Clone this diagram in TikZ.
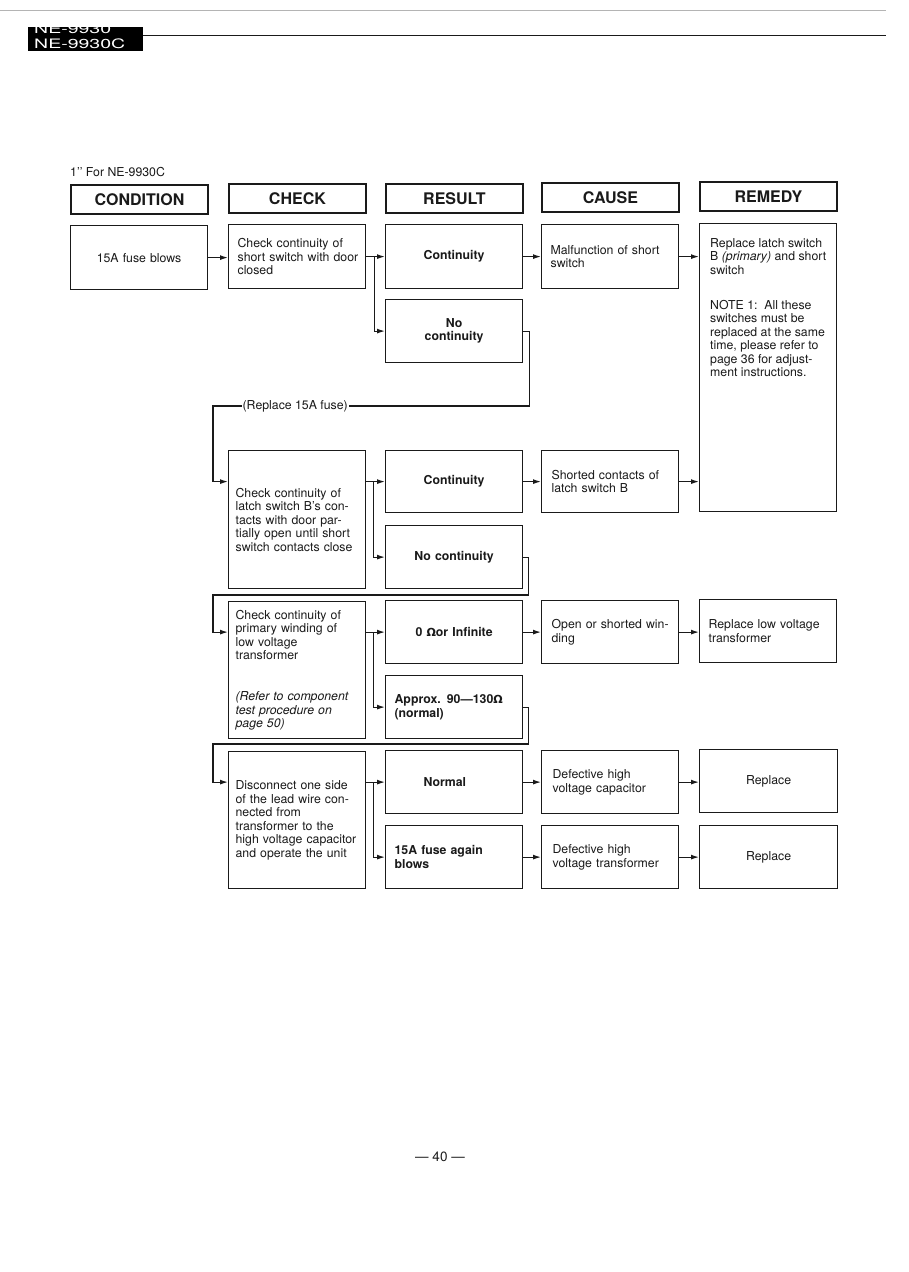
\documentclass[tikz,border=0pt]{standalone}
\usepackage{fontspec}
\setmainfont{TeX Gyre Heros}
\newfontfamily\ohmfont{DejaVu Sans}[Scale=0.9]
\usepackage{graphicx}
\usepackage{tikz}
\usetikzlibrary{arrows.meta,positioning,calc}
\providecommand{\bodyfnt}{\fontsize{12.3}{13.5}\selectfont}
\providecommand{\hdrfnt}{\fontsize{16}{18}\selectfont\bfseries}
\providecommand{\ohm}{{\ohmfont Ω}}
\definecolor{inkBlack}{HTML}{1A1A1A}
\definecolor{ruleGray}{HTML}{B4B4B4}

\begin{document}
\begin{tikzpicture}[
    x=1pt,y=-1pt,
    >={Latex[length=8pt,width=5pt]},
    every node/.style={font=\bodyfnt,text=inkBlack},
    hdr/.style={rectangle,draw=inkBlack,line width=1.9pt,anchor=north west,
                minimum width=137pt,minimum height=29pt,inner sep=0pt,font=\hdrfnt},
    box/.style={rectangle,draw=inkBlack,line width=1.2pt,anchor=north west,
                minimum width=137pt,inner xsep=7pt,inner ysep=2pt,text width=123pt,align=left},
    cbox/.style={box,align=center},
    link/.style={draw=inkBlack,line width=1.2pt}
  ]
  \useasboundingbox (0,0) rectangle (909,1272);
  \fill[white] (0,0) rectangle (909,1272);
  %% Turning points of the return lines
  \coordinate (ret1) at (213,406);
  \coordinate (ret2) at (213,595);
  \coordinate (ret3) at (213,744);

  %% Page head
  \draw[ruleGray,line width=0.6pt] (0,10) -- (886,10);
  \fill[black] (28,27) rectangle (143,51);
  \begin{scope}
    \clip (28,27) rectangle (143,51);
    \node[anchor=base west,inner sep=0pt,text=white,font=\fontsize{13}{13}\selectfont] (mdla) at (34,33) {\scalebox{1.5}[1]{NE-9930}};
    \node[anchor=base west,inner sep=0pt,text=white,font=\fontsize{13}{13}\selectfont] (mdlb) at (34,48) {\scalebox{1.5}[1]{NE-9930C}};
  \end{scope}
  \draw[inkBlack,line width=1pt] (143,35) -- (886,35);
  \node[anchor=base west,inner sep=0pt] (fornote) at (70,176) {1'{}' For NE-9930C};

  %% Column headers
  \node[hdr] (hcond) at (70,184)  {CONDITION};
  \node[hdr] (hchk)  at (228,183) {CHECK};
  \node[hdr] (hres)  at (385,183) {RESULT};
  \node[hdr] (hcau)  at (541,182) {CAUSE};
  \node[hdr] (hrem)  at (699,181) {REMEDY};

  %% Row 1
  \node[cbox,minimum height=64pt] (cond) at (70,225) {15A fuse blows};
  \node[box,minimum height=64pt] (chk1) at (228,224) {\hspace*{2pt}Check continuity of\\\hspace*{2pt}short switch with door\\\hspace*{2pt}closed};
  \node[cbox,minimum height=64pt,font=\bodyfnt\bfseries] (res1) at (385,224) {Continuity};
  \node[cbox,minimum height=63pt,font=\bodyfnt\bfseries] (res1b) at (385,299) {No\\continuity};
  \node[box,minimum height=64pt] (cau1) at (541,224) {\hspace*{2pt}Malfunction of short\\\hspace*{2pt}switch};
  \node[box,minimum height=288pt] (rem1) at (699,223) {};
  \node[anchor=north west,inner sep=0pt,align=left] (rem1t) at ([shift={(11,15)}]rem1.north west)
    {Replace latch switch\\B \textit{(primary)} and short\\switch\\[21.5pt]NOTE 1:\ \ All these\\switches must be\\replaced at the same\\time, please refer to\\page 36 for adjust-\\ment instructions.};

  %% Row 2
  \node[box,minimum height=138pt] (chk2) at (228,450) {Check continuity of\\latch switch B's con-\\tacts with door par-\\tially open until short\\switch contacts close};
  \node[cbox,minimum height=62pt,font=\bodyfnt\bfseries] (res2) at (385,450) {Continuity};
  \node[cbox,minimum height=63pt,font=\bodyfnt\bfseries] (res2b) at (385,525) {No continuity};
  \node[box,minimum height=62pt] (cau2) at (541,450) {\hspace*{3pt}Shorted contacts of\\\hspace*{3pt}latch switch B};

  %% Row 3
  \node[box,minimum height=137pt] (chk3) at (228,601) {Check continuity of\\primary winding of\\low voltage\\transformer\\[27.5pt]\textit{(Refer to component}\\\textit{test procedure on}\\\textit{page 50)}};
  \node[cbox,minimum height=63pt,font=\bodyfnt\bfseries] (res3) at (385,600) {0 \ohm or Infinite};
  \node[box,minimum height=63pt,font=\bodyfnt\bfseries] (res3b) at (385,675) {\hspace*{2pt}Approx. 90---130\ohm\\\hspace*{2pt}(normal)};
  \node[box,minimum height=63pt] (cau3) at (541,600) {\hspace*{3pt}Open or shorted win-\\\hspace*{3pt}ding};
  \node[box,minimum height=63pt] (rem3) at (699,599) {\hspace*{2pt}Replace low voltage\\\hspace*{2pt}transformer};

  %% Row 4
  \node[box,minimum height=137pt] (chk4) at (228,751) {Disconnect one side\\of the lead wire con-\\nected from\\transformer to the\\high voltage capacitor\\and operate the unit};
  \node[box,minimum height=63pt,font=\bodyfnt\bfseries] (res4) at (385,750) {\hspace*{31pt}Normal};
  \node[box,minimum height=63pt,font=\bodyfnt\bfseries] (res4b) at (385,825) {\hspace*{2pt}15A fuse again\\\hspace*{2pt}blows};
  \node[box,minimum height=63pt] (cau4) at (541,750) {\hspace*{4pt}Defective high\\\hspace*{4pt}voltage capacitor};
  \node[box,minimum height=63pt] (cau4b) at (541,825) {\hspace*{4pt}Defective high\\\hspace*{4pt}voltage transformer};
  \node[cbox,minimum height=63pt,minimum width=138pt] (rem4) at (699,749) {Replace};
  \node[cbox,minimum height=63pt,minimum width=138pt] (rem4b) at (699,825) {Replace};

  %% Connectors, row 1
  \draw[link,->] (cond.east) -- (cond.east -| chk1.west);
  \draw[link,->] (chk1.east) -- (res1.west);
  \draw[link,->] (chk1.east) ++(8,0) |- (res1b.west);
  \draw[link,->] (res1.east) -- (cau1.west);
  \draw[link,->] (cau1.east) -- (cau1.east -| rem1.west);
  \draw[link,->] (res1b.east) -- ++(6,0)
    |- node[pos=0.87,fill=white,inner xsep=1pt,inner ysep=0pt] (fuselbl) {(Replace 15A fuse)} (ret1)
    |- (chk2.west |- res2.west);
  %% Connectors, row 2
  \draw[link,->] (chk2.east |- res2.west) -- (res2.west);
  \draw[link,->] (chk2.east |- res2.west) ++(7,0) |- (res2b.west);
  \draw[link,->] (res2.east) -- (cau2.west);
  \draw[link,->] (cau2.east) -- (cau2.east -| rem1.west);
  \draw[link,->] (res2b.east) -- ++(5,0) |- (ret2) |- (chk3.west |- res3.west);
  %% Connectors, row 3
  \draw[link,->] (chk3.east |- res3.west) -- (res3.west);
  \draw[link,->] (chk3.east |- res3.west) ++(7,0) |- (res3b.west);
  \draw[link,->] (res3.east) -- (cau3.west);
  \draw[link,->] (cau3.east) -- (cau3.east -| rem3.west);
  \draw[link,->] (res3b.east) -- ++(5,0) |- (ret3) |- (chk4.west |- res4.west);
  %% Connectors, row 4
  \draw[link,->] (chk4.east |- res4.west) -- (res4.west);
  \draw[link,->] (chk4.east |- res4.west) ++(7,0) |- (res4b.west);
  \draw[link,->] (res4.east) -- (cau4.west);
  \draw[link,->] (cau4.east) -- (cau4.east -| rem4.west);
  \draw[link,->] (res4b.east) -- (cau4b.west);
  \draw[link,->] (cau4b.east) -- (cau4b.east -| rem4b.west);

  %% Page number
  \node[font=\fontsize{13.5}{15}\selectfont] (pgno) at (440,1157) {--- 40 ---};
\end{tikzpicture}
\end{document}
